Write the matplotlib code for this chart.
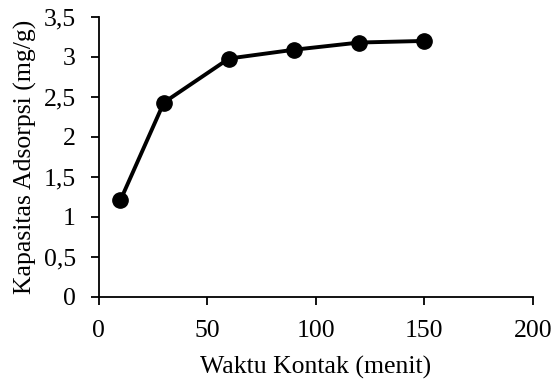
import matplotlib
matplotlib.use("Agg")
import matplotlib.pyplot as plt
from matplotlib.ticker import FuncFormatter

waktu = [10, 30, 60, 90, 120, 150]
kapasitas = [1.21, 2.43, 2.98, 3.09, 3.18, 3.20]
x_ticks = [0, 50, 100, 150, 200]
y_ticks = [0, 0.5, 1, 1.5, 2, 2.5, 3, 3.5]

plt.rcParams['font.family'] = ['Liberation Serif', 'DejaVu Serif']

fig = plt.figure(figsize=(5.55, 3.85), dpi=100)
ax = fig.add_axes([0.178, 0.229, 0.782, 0.727])

ax.plot(waktu, kapasitas, color='black', linewidth=2.8, marker='o', markersize=11)

ax.set_xlim(0, 200)
ax.set_ylim(0, 3.5)
ax.set_xticks(x_ticks)
ax.set_yticks(y_ticks)
ax.yaxis.set_major_formatter(FuncFormatter(lambda v, p: ('%g' % v).replace('.', ',')))

for s in ['top', 'right']:
    ax.spines[s].set_visible(False)
for s in ['left', 'bottom']:
    ax.spines[s].set_linewidth(1.3)
ax.tick_params(direction='out', length=5.5, width=1.3, labelsize=18.5, pad=11)

ax.set_xlabel('Waktu Kontak (menit)', fontsize=18.5, labelpad=10)
ax.set_ylabel('Kapasitas Adsorpsi (mg/g)', fontsize=18.5, labelpad=5)

fig.savefig('out.png', dpi=100)
